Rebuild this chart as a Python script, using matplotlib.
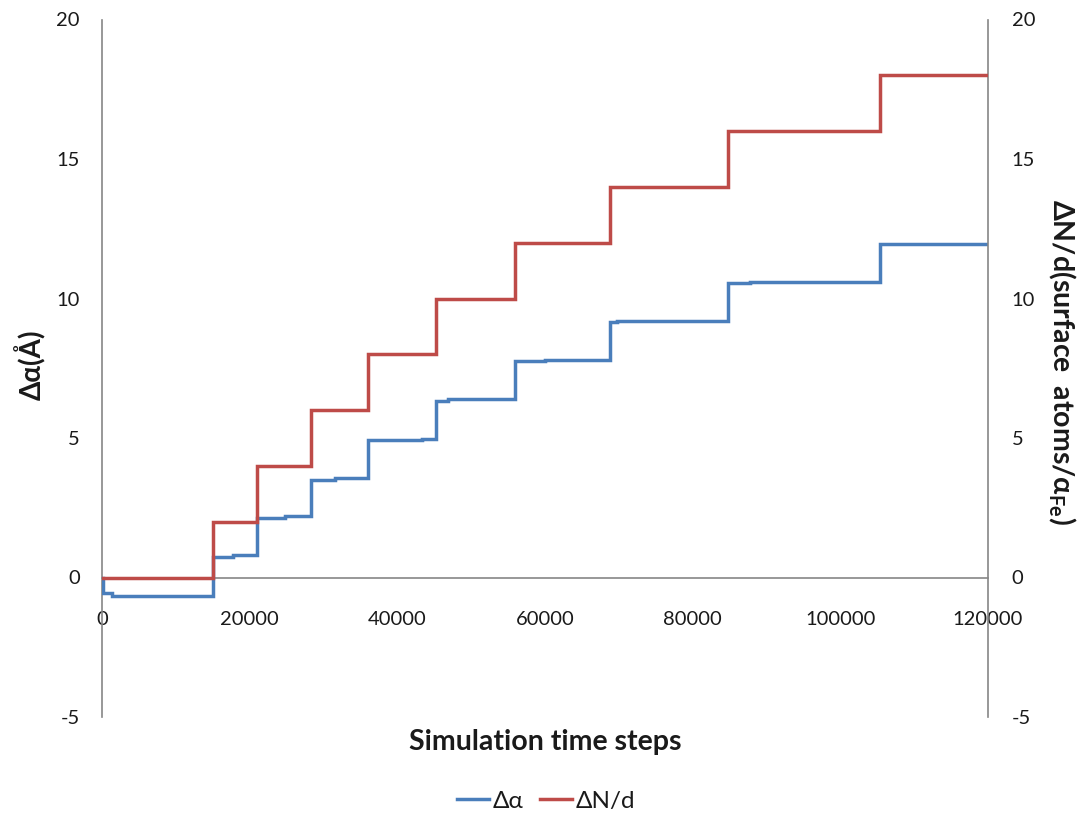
import matplotlib
matplotlib.use("Agg")
import matplotlib.pyplot as plt
from matplotlib.lines import Line2D

plt.rcParams['font.family'] = ['Lato', 'DejaVu Sans']
plt.rcParams['mathtext.fontset'] = 'custom'
plt.rcParams['axes.unicode_minus'] = False

# Simulation time steps and the stepwise responses
red_t = [0, 15000, 21000, 28300, 36000, 45300, 55900, 68800, 84800, 105400, 120000]
red_v = [0, 2, 4, 6, 8, 10, 12, 14, 16, 18, 18]

blue_t = [0, 150, 1300, 7800, 15000, 17700, 21000, 24800, 28300, 31500,
          36000, 43400, 45300, 46900, 55900, 60000, 68800, 69700, 83250,
          84800, 87800, 105400, 106500, 120000]
blue_v = [0, -0.55, -0.68, -0.65, 0.72, 0.79, 2.15, 2.19, 3.51, 3.58,
          4.92, 4.98, 6.32, 6.38, 7.75, 7.78, 9.16, 9.20, 9.18,
          10.54, 10.58, 11.94, 11.97, 11.97]

x_ticks = [0, 20000, 40000, 60000, 80000, 100000, 120000]
y_ticks = [-5, 0, 5, 10, 15, 20]

BLUE = '#4A7EBB'
RED = '#BE4B48'
GRAY = '#868686'
TXT = '#1a1a1a'

W, H = 1082, 814
fig = plt.figure(figsize=(W / 100, H / 100), dpi=100)
ax = fig.add_axes([102 / W, 1 - 717 / H, (988 - 102) / W, (717 - 19.5) / H])
ax2 = ax.twinx()

for a in (ax, ax2):
    a.set_xlim(0, 120000)
    a.set_ylim(-5, 20)
    a.set_yticks(y_ticks)
    a.spines['top'].set_visible(False)
    for s in ('left', 'right', 'bottom'):
        a.spines[s].set_color(GRAY)
        a.spines[s].set_linewidth(1.2)
    a.set_facecolor('none')

ax.spines['right'].set_visible(False)
ax2.spines['left'].set_visible(False)
ax2.spines['bottom'].set_visible(False)
ax.spines['bottom'].set_position(('data', 0))

ax.set_xticks(x_ticks)
ax.set_xticklabels([str(v) for v in x_ticks])
ax.tick_params(axis='x', length=0, pad=24, labelsize=14.5, colors=TXT)
ax.tick_params(axis='y', length=0, pad=16, labelsize=14.5, colors=TXT)
ax2.tick_params(axis='y', length=0, pad=17, labelsize=14.5, colors=TXT)

ax.plot(blue_t, blue_v, drawstyle='steps-post', color=BLUE, lw=2.5,
        solid_joinstyle='miter', zorder=3)
ax2.plot(red_t, red_v, drawstyle='steps-post', color=RED, lw=2.5,
         solid_joinstyle='miter', zorder=3)

fig.text(30 / W, 1 - 365 / H, 'Δα(Å)', rotation=90, ha='center', va='center',
         fontsize=20, fontweight='bold', color=TXT)
fig.text(1062 / W, 1 - 362 / H,
         r'ΔN/d(surface  atoms/α$_{\mathregular{Fe}}$)',
         rotation=-90, ha='center', va='center', fontsize=20.5,
         fontweight='bold', color=TXT)
fig.text(545 / W, 1 - 742 / H, 'Simulation time steps', ha='center',
         va='center', fontsize=20.5, fontweight='bold', color=TXT)

handles = [Line2D([], [], color=BLUE, lw=2.5), Line2D([], [], color=RED, lw=2.5)]
fig.legend(handles, ['Δα', 'ΔN/d'], loc='center', bbox_to_anchor=(546 / W, 1 - 801 / H),
           ncol=2, frameon=False, fontsize=17.5, handlelength=1.3, handletextpad=0.15,
           columnspacing=0.7, labelcolor=TXT)

fig.savefig('out.png', dpi=100, facecolor='white')
